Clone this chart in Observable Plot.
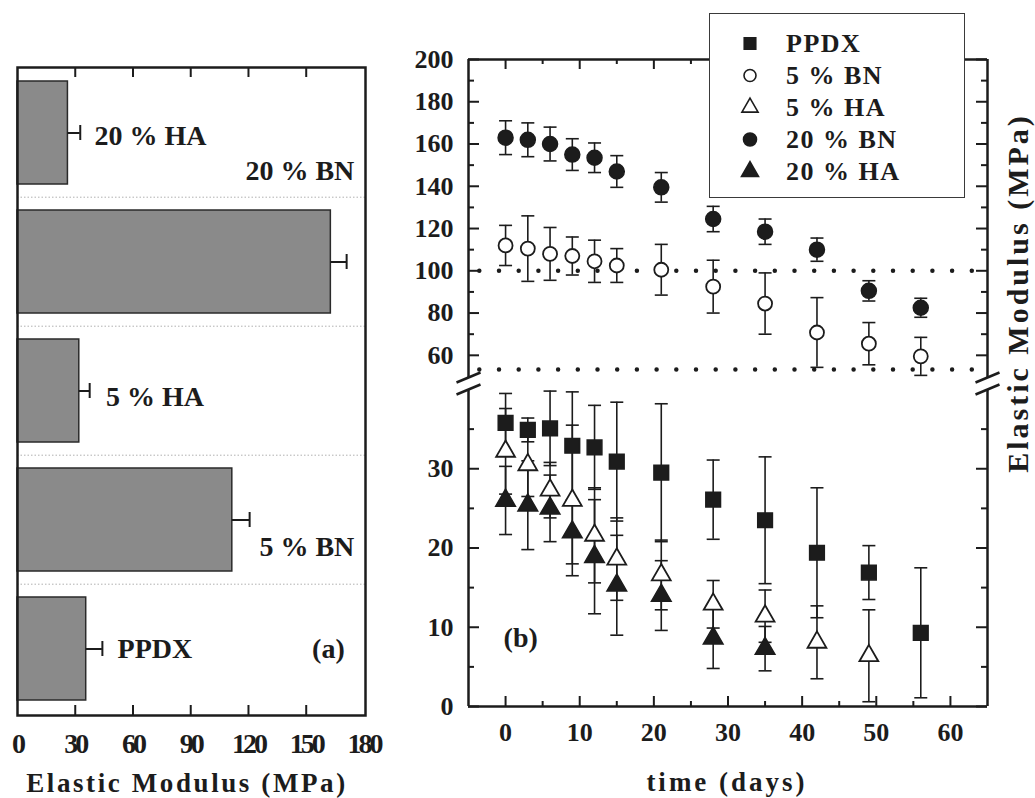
<!DOCTYPE html>
<html>
<head>
<meta charset="utf-8">
<script src="https://cdn.jsdelivr.net/npm/d3@7"></script>
<script src="https://cdn.jsdelivr.net/npm/@observablehq/plot@0.6"></script>
<style>
  html, body { margin: 0; padding: 0; background: #fff; }
  #root { position: relative; width: 1035px; height: 798px; overflow: hidden; background: #fff;
          font-family: "Liberation Serif", "Times New Roman", serif; font-weight: bold; color: #1c1c1c; }
  .title { position: absolute; white-space: nowrap; line-height: 1; z-index: 3; }
  #legendBox { position: absolute; left: 709px; top: 13px; width: 256px; height: 185px; box-sizing: border-box;
               border: 1.5px solid #3a3a3a; background: #fff; z-index: 2; }
</style>
</head>
<body>
<div id="root"><div id="legendBox"></div></div>
<script>
// ---------------- Panel (a): bar chart data ----------------
const barCategories = ["20 % HA", "20 % BN", "5 % HA", "5 % BN", "PPDX"];
const barModulus    = [26.2, 162.8, 32.1, 111.6, 35.7];
const barError      = [6.4, 8.2, 5.4, 9.0, 8.4];
const barAxisTicks  = [0, 30, 60, 90, 120, 150, 180];

// ---------------- Panel (b): time series data ----------------
const days = [0, 3, 6, 9, 12, 15, 21, 28, 35, 42, 49, 56];
const bn20    = [163, 162, 160, 155, 153.5, 147, 139.5, 124.5, 118.5, 110, 90.5, 82.5];
const bn20Err = [8, 8, 8, 7.5, 7, 7.5, 7, 6, 6, 5.5, 4.8, 4.5];
const bn5     = [112, 110.5, 108, 107, 104.5, 102.5, 100.5, 92.5, 84.5, 70.8, 65.5, 59.5];
const bn5Err  = [9.5, 15.5, 12.5, 9, 10, 8, 12, 12.5, 14.5, 16.5, 10, 9];
const ppdx    = [35.8, 34.9, 35.1, 32.9, 32.7, 30.9, 29.5, 26.1, 23.5, 19.4, 16.9, 9.3];
const ppdxErr = [3.7, 1.5, 4.7, 6.8, 5.3, 7.5, 8.7, 5, 8, 8.2, 3.4, 8.2];
const ha5     = [32.2, 30.5, 27.3, 26, 21.6, 18.6, 16.6, 12.9, 11.4, 8.1, 6.4];
const ha5Err  = [5.4, 4, 3.5, 9.5, 6, 5.2, 4.4, 3, 3.3, 4.6, 5.8];
const ha20    = [26, 25.4, 25, 22, 18.9, 15.3, 14, 8.6, 7.3];
const ha20Err = [4.3, 5.6, 4.2, 4, 7.2, 6.3, 4.4, 3.8, 2.8];
const refLines = [100, 53.3];

const timeTicks       = [0, 10, 20, 30, 40, 50, 60];
const timeMinorTicks  = [5, 15, 25, 35, 45, 55];
const upperTicks      = [60, 80, 100, 120, 140, 160, 180, 200];
const upperMinorTicks = [70, 90, 110, 130, 150, 170, 190];
const lowerTicks      = [0, 10, 20, 30];
const lowerMinorTicks = [5, 15, 25, 35];
const legendNames = ["PPDX", "5 % BN", "5 % HA", "20 % BN", "20 % HA"];

// ---------------- helpers ----------------
const INK = "#1c1c1c";
const FONT = '"Liberation Serif", "Times New Roman", serif';
const root = document.getElementById("root");
function place(el, left, top, z = 1) {
  el.style.position = "absolute";
  el.style.left = left + "px";
  el.style.top = top + "px";
  el.style.zIndex = z;
  root.appendChild(el);
  return el;
}
const svgStyle = {fontFamily: FONT, fontWeight: "bold", fontSize: "26px", color: INK, background: "transparent", overflow: "visible"};
const capSym = {draw(ctx) { ctx.moveTo(-6.5, 0); ctx.lineTo(6.5, 0); }};
const breakSym = {draw(ctx) { ctx.moveTo(-12, 5); ctx.lineTo(12, -5); }};
const rowsOf = (vals, errs) => vals.map((v, i) => ({day: days[i], v, lo: v - errs[i], hi: v + errs[i]}));
function errMarks(data) {
  return [
    Plot.ruleX(data, {x: "day", y1: "lo", y2: "hi", stroke: INK, strokeWidth: 1.6}),
    Plot.dot(data, {x: "day", y: "lo", symbol: capSym, fill: "none", stroke: INK, strokeWidth: 1.6}),
    Plot.dot(data, {x: "day", y: "hi", symbol: capSym, fill: "none", stroke: INK, strokeWidth: 1.6})
  ];
}

// ---------------- Panel (a) ----------------
const aRows = barCategories.map((cat, i) => ({cat, v: barModulus[i], e: barError[i]}));
const A = {width: 400, height: 798, top: 67, bottom: 715, left: 17, right: 365};
const aFH = A.bottom - A.top;
const aStep = aFH / barCategories.length;
const labelFont = 28;
const panelA = Plot.plot({
  width: A.width, height: A.height,
  marginTop: A.top, marginBottom: A.height - A.bottom, marginLeft: A.left, marginRight: A.width - A.right,
  style: svgStyle,
  x: {domain: [0, 180.8], label: null},
  y: {domain: barCategories, type: "band", paddingInner: 0.2, paddingOuter: 0.1, axis: null, label: null},
  marks: [
    Plot.ruleY(barCategories.slice(1), {y: d => d, dy: -aStep / 2, stroke: "#b0b0b0", strokeWidth: 1, strokeDasharray: "1.5,2"}),
    Plot.barX(aRows, {x: "v", y: "cat", fill: "#8a8a8a", stroke: "#2a2a2a", strokeWidth: 1.5}),
    Plot.ruleY(aRows, {y: "cat", x1: "v", x2: d => d.v + d.e, stroke: INK, strokeWidth: 2}),
    Plot.tickX(aRows, {x: d => d.v + d.e, y: "cat", insetTop: 44, insetBottom: 44, stroke: INK, strokeWidth: 2}),
    Plot.tickX(barAxisTicks.slice(1, -1), {x: d => d, insetTop: aFH - 10, stroke: INK, strokeWidth: 2}),
    Plot.tickX(barAxisTicks.slice(1, -1), {x: d => d, insetBottom: aFH - 10, stroke: INK, strokeWidth: 2}),
    Plot.frame({stroke: INK, strokeWidth: 2.5}),
    Plot.axisX({ticks: barAxisTicks, tickSize: 0, tickPadding: 18, fontSize: 28, label: null}),
    Plot.text(["20 % HA"], {x: 40, y: d => d, text: d => d, textAnchor: "start", dy: 3, fontSize: labelFont, fill: INK}),
    Plot.text(["20 % BN"], {x: 175, y: d => d, text: d => d, textAnchor: "end", dy: -91, fontSize: labelFont, fill: INK}),
    Plot.text(["5 % HA"], {x: 46, y: d => d, text: d => d, textAnchor: "start", dy: 6, fontSize: labelFont, fill: INK}),
    Plot.text(["5 % BN"], {x: 175, y: d => d, text: d => d, textAnchor: "end", dy: 27, fontSize: labelFont, fill: INK}),
    Plot.text(["PPDX"], {x: 52, y: d => d, text: d => d, textAnchor: "start", dy: 0, fontSize: labelFont, fill: INK}),
    Plot.text(["PPDX"], {x: 170, y: d => d, text: () => "(a)", textAnchor: "end", dy: 0, fontSize: labelFont, fill: INK})
  ]
});
d3.select(panelA).selectAll('[aria-label="x-axis tick label"] text').style("letter-spacing", "-3px");
place(panelA, 0, 0, 1);

// ---------------- Panel (b) upper (broken axis, 49.5–200) ----------------
const B = {left: 400, width: 635, mLeft: 68, mRight: 48};
const FW = B.width - B.mLeft - B.mRight;
const U = {top: 0, height: 380, mTop: 59, mBottom: 3};
const FHU = U.height - U.mTop - U.mBottom;
const bn20Rows = rowsOf(bn20, bn20Err);
const bn5Rows = rowsOf(bn5, bn5Err);
const upper = Plot.plot({
  width: B.width, height: U.height,
  marginTop: U.mTop, marginBottom: U.mBottom, marginLeft: B.mLeft, marginRight: B.mRight,
  style: svgStyle,
  x: {domain: [-5, 65], axis: null, label: null},
  y: {domain: [49.5, 200], label: null},
  marks: [
    Plot.ruleY(refLines, {y: d => d, stroke: INK, strokeWidth: 4.5, strokeDasharray: "0,19.7", strokeDashoffset: 8.4, strokeLinecap: "round"}),
    ...errMarks(bn5Rows),
    ...errMarks(bn20Rows),
    Plot.dot(bn20Rows, {x: "day", y: "v", r: 7.5, fill: INK, stroke: INK}),
    Plot.dot(bn5Rows, {x: "day", y: "v", r: 7, fill: "white", stroke: INK, strokeWidth: 1.8}),
    Plot.ruleX([-5, 65], {x: d => d, stroke: INK, strokeWidth: 2.5}),
    Plot.ruleY([200], {y: d => d, stroke: INK, strokeWidth: 2.5}),
    Plot.tickY(upperTicks, {y: d => d, insetRight: FW - 11, stroke: INK, strokeWidth: 2}),
    Plot.tickY(upperTicks, {y: d => d, insetLeft: FW - 11, stroke: INK, strokeWidth: 2}),
    Plot.tickY(upperMinorTicks, {y: d => d, insetRight: FW - 6, stroke: INK, strokeWidth: 2}),
    Plot.tickY(upperMinorTicks, {y: d => d, insetLeft: FW - 6, stroke: INK, strokeWidth: 2}),
    Plot.tickX(timeTicks, {x: d => d, insetBottom: FHU - 10, stroke: INK, strokeWidth: 2}),
    Plot.tickX(timeMinorTicks, {x: d => d, insetBottom: FHU - 5, stroke: INK, strokeWidth: 2}),
    Plot.axisY({ticks: upperTicks, tickSize: 0, tickPadding: 15, fontSize: 26, label: null}),
    Plot.dot([0], {frameAnchor: "bottom-left", symbol: breakSym, stroke: INK, strokeWidth: 2.5}),
    Plot.dot([0], {frameAnchor: "bottom-right", symbol: breakSym, stroke: INK, strokeWidth: 2.5})
  ]
});
place(upper, B.left, U.top, 1);

// ---------------- Panel (b) lower (0–40) ----------------
const L = {top: 380, height: 418, mTop: 9, mBottom: 92};
const FHL = L.height - L.mTop - L.mBottom;
const ppdxRows = rowsOf(ppdx, ppdxErr);
const ha5Rows = rowsOf(ha5, ha5Err);
const ha20Rows = rowsOf(ha20, ha20Err);
const lower = Plot.plot({
  width: B.width, height: L.height,
  marginTop: L.mTop, marginBottom: L.mBottom, marginLeft: B.mLeft, marginRight: B.mRight,
  style: svgStyle,
  x: {domain: [-5, 65], label: null},
  y: {domain: [0, 40], label: null},
  marks: [
    ...errMarks(ppdxRows),
    ...errMarks(ha5Rows),
    ...errMarks(ha20Rows),
    Plot.dot(ppdxRows, {x: "day", y: "v", symbol: "square", r: 8.3, fill: INK, stroke: INK}),
    Plot.dot(ha5Rows, {x: "day", y: "v", symbol: "triangle", r: 7, fill: "white", stroke: INK, strokeWidth: 1.8}),
    Plot.dot(ha20Rows, {x: "day", y: "v", symbol: "triangle", r: 7.3, fill: INK, stroke: INK}),
    Plot.ruleX([-5, 65], {x: d => d, stroke: INK, strokeWidth: 2.5}),
    Plot.ruleY([0], {y: d => d, stroke: INK, strokeWidth: 2.5}),
    Plot.tickY(lowerTicks, {y: d => d, insetRight: FW - 11, stroke: INK, strokeWidth: 2}),
    Plot.tickY(lowerTicks, {y: d => d, insetLeft: FW - 11, stroke: INK, strokeWidth: 2}),
    Plot.tickY(lowerMinorTicks, {y: d => d, insetRight: FW - 6, stroke: INK, strokeWidth: 2}),
    Plot.tickY(lowerMinorTicks, {y: d => d, insetLeft: FW - 6, stroke: INK, strokeWidth: 2}),
    Plot.tickX(timeTicks, {x: d => d, insetTop: FHL - 10, stroke: INK, strokeWidth: 2}),
    Plot.tickX(timeMinorTicks, {x: d => d, insetTop: FHL - 5, stroke: INK, strokeWidth: 2}),
    Plot.axisY({ticks: lowerTicks, tickSize: 0, tickPadding: 15, fontSize: 26, label: null}),
    Plot.axisX({ticks: timeTicks, tickSize: 0, tickPadding: 16, fontSize: 26, label: null}),
    Plot.text(["(b)"], {x: 0, y: 8.7, text: d => d, textAnchor: "start", dx: -2, fontSize: 28, fill: INK}),
    Plot.dot([0], {frameAnchor: "top-left", symbol: breakSym, stroke: INK, strokeWidth: 2.5}),
    Plot.dot([0], {frameAnchor: "top-right", symbol: breakSym, stroke: INK, strokeWidth: 2.5})
  ]
});
place(lower, B.left, L.top, 1);

// ---------------- Legend ----------------
const legendBox = document.getElementById("legendBox");
const legendSpecs = {
  "PPDX":    {symbol: "square",   r: 6.5, fill: INK},
  "5 % BN":  {symbol: "circle",   r: 6,   fill: "white"},
  "5 % HA":  {symbol: "triangle", r: 6,   fill: "white"},
  "20 % BN": {symbol: "circle",   r: 6.5, fill: INK},
  "20 % HA": {symbol: "triangle", r: 6.3, fill: INK}
};
const legendPlot = Plot.plot({
  width: 253, height: 182,
  marginTop: 27.5, marginBottom: 24.5, marginLeft: 0, marginRight: 0,
  style: {...svgStyle, letterSpacing: "1.5px"},
  x: {domain: [0, 1], axis: null},
  y: {type: "point", domain: legendNames, padding: 0, axis: null},
  marks: [
    ...legendNames.map(name => Plot.dot([name], {
      y: d => d, frameAnchor: "left", dx: 39.5,
      symbol: legendSpecs[name].symbol, r: legendSpecs[name].r,
      fill: legendSpecs[name].fill, stroke: INK, strokeWidth: 1.6
    })),
    Plot.text(legendNames, {y: d => d, text: d => d, frameAnchor: "left", dx: 75.5, textAnchor: "start", fontSize: 26, fill: INK})
  ]
});
legendPlot.style.position = "absolute";
legendPlot.style.left = "0px";
legendPlot.style.top = "0px";
legendBox.appendChild(legendPlot);

// ---------------- Axis titles ----------------
function title(text, css) {
  const d = document.createElement("div");
  d.className = "title";
  d.textContent = text;
  Object.assign(d.style, css);
  root.appendChild(d);
  return d;
}
title("Elastic Modulus (MPa)", {left: "187px", top: "770px", fontSize: "27px", letterSpacing: "2.6px", transform: "translateX(-50%)"});
title("time (days)", {left: "727px", top: "769px", fontSize: "27px", letterSpacing: "3px", transform: "translateX(-50%)"});
title("Elastic Modulus (MPa)", {left: "1018px", top: "293px", fontSize: "30px", letterSpacing: "3px", transform: "translate(-50%, -50%) rotate(-90deg)"});
</script>
</body>
</html>
